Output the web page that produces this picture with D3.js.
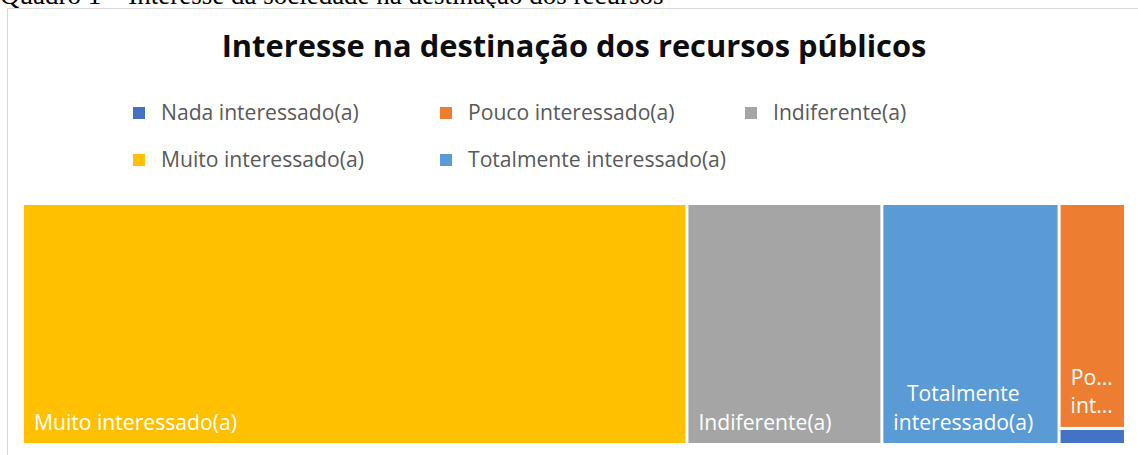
<!DOCTYPE html>
<html>
<head>
<meta charset="utf-8">
<script src="https://cdn.jsdelivr.net/npm/d3@7"></script>
<style>
  html, body { margin: 0; padding: 0; background: #fff; }
  svg { display: block; }
</style>
</head>
<body>
<svg id="chart" width="1138" height="455"></svg>
<script>
// ---- data ----
const categories = ["Nada interessado(a)", "Pouco interessado(a)", "Indiferente(a)", "Muito interessado(a)", "Totalmente interessado(a)"];
const values = [1, 14, 44, 150, 40];
const colors = ["#4472C4", "#ED7D31", "#A5A5A5", "#FFC000", "#5B9BD5"];
const chartTitle = "Interesse na destinação dos recursos públicos";
const caption = "Quadro 1 – Interesse da sociedade na destinação dos recursos";

// ---- layout ----
const W = 1138, H = 455;
const svg = d3.select("#chart");
svg.append("rect").attr("width", W).attr("height", H).attr("fill", "#fff");

const fontFam = "'Open Sans', 'Noto Sans', sans-serif";

function fitSize(sel, base, target) {
  sel.attr("font-size", base);
  const w = sel.node().getComputedTextLength();
  const fs = base * target / w;
  sel.attr("font-size", fs);
  return fs;
}

// caption (cut off at top of the picture, as in the reference)
const cap = svg.append("text")
  .attr("x", 0).attr("y", 4)
  .attr("font-family", "'Liberation Serif', 'Times New Roman', serif")
  .attr("fill", "#000")
  .text(caption);
fitSize(cap, 22, 664);

// chart frame
svg.append("rect")
  .attr("x", 7.5).attr("y", 8.5)
  .attr("width", W + 20).attr("height", H + 20)
  .attr("fill", "#fff").attr("stroke", "#d9d9d9").attr("stroke-width", 1);

// title
const title = svg.append("text")
  .attr("x", 574).attr("y", 57)
  .attr("text-anchor", "middle")
  .attr("font-family", fontFam)
  .attr("font-weight", "bold")
  .attr("fill", "#0d0d0d")
  .text(chartTitle);
fitSize(title, 28, 705);

// body font size: fit reference label width
const probe = svg.append("text").attr("font-family", fontFam).attr("visibility", "hidden").text(categories[3]);
const bodyFs = fitSize(probe, 20, 203);
probe.remove();

// legend
const legendOrder = [0, 1, 2, 3, 4];
const legCols = [133, 440, 745];
const legRows = [113, 160];
const leg = svg.append("g");
legendOrder.forEach((ci, i) => {
  const col = i % 3, row = Math.floor(i / 3);
  const g = leg.append("g").attr("transform", `translate(${legCols[col]},${legRows[row]})`);
  g.append("rect").attr("x", 0).attr("y", -6).attr("width", 12).attr("height", 12).attr("fill", colors[ci]);
  g.append("text").attr("x", 28).attr("y", 7)
    .attr("font-family", fontFam)
    .attr("font-size", bodyFs).attr("fill", "#595959")
    .text(categories[ci]);
});

// treemap
const tx0 = 24, ty0 = 205, tx1 = 1124, ty1 = 443;
const rootData = { name: "root", children: categories.map((c, i) => ({ name: c, value: values[i], color: colors[i] })) };
const root = d3.hierarchy(rootData).sum(d => d.value || 0).sort((a, b) => b.value - a.value);
d3.treemap()
  .tile(d3.treemapSquarify)
  .size([tx1 - tx0, ty1 - ty0])
  .paddingInner(3)
  .round(false)(root);

const tm = svg.append("g").attr("transform", `translate(${tx0},${ty0})`);
const leaves = root.leaves();
tm.selectAll("rect.cell").data(leaves).join("rect")
  .attr("class", "cell")
  .attr("x", d => d.x0).attr("y", d => d.y0)
  .attr("width", d => d.x1 - d.x0).attr("height", d => d.y1 - d.y0)
  .attr("fill", d => d.data.color);

// labels
const meas = svg.append("text").attr("font-family", fontFam).attr("font-size", bodyFs).attr("visibility", "hidden");
function tw(s) { meas.text(s); return meas.node().getComputedTextLength(); }
function fitWord(w, maxW) {
  if (tw(w) <= maxW) return w;
  let s = w;
  while (s.length > 0 && tw(s + "…") > maxW) s = s.slice(0, -1);
  return s.length ? s + "…" : "";
}
const padX = 10, lineH = 28.5, bottomPad = 13.5;
leaves.forEach(d => {
  const w = d.x1 - d.x0, h = d.y1 - d.y0;
  const maxW = w - 2 * padX;
  const maxLines = Math.floor((h - 10) / lineH);
  if (maxLines < 1 || maxW < 20) return;
  const words = d.data.name.split(" ");
  const lines = [];
  let cur = "";
  words.forEach(wd => {
    const trial = cur ? cur + " " + wd : wd;
    if (tw(trial) <= maxW) { cur = trial; }
    else {
      if (cur) lines.push(cur);
      cur = fitWord(wd, maxW);
    }
  });
  if (cur) lines.push(cur);
  const use = lines.slice(0, maxLines);
  const blockW = d3.max(use, tw);
  const cx = d.x0 + padX + blockW / 2;
  const t = tm.append("text")
    .attr("font-family", fontFam).attr("font-size", bodyFs)
    .attr("fill", "#fff").attr("text-anchor", "middle");
  use.forEach((ln, i) => {
    t.append("tspan").attr("x", cx)
      .attr("y", d.y1 - bottomPad - (use.length - 1 - i) * lineH)
      .text(ln);
  });
});
meas.remove();
</script>
</body>
</html>
